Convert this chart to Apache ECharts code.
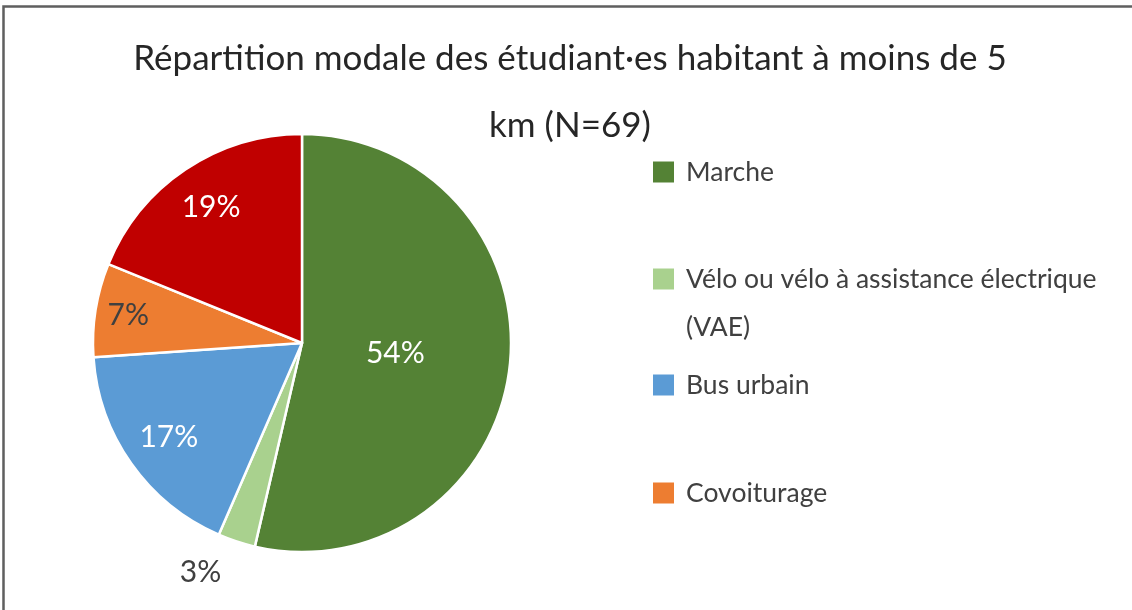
<!DOCTYPE html>
<html>
<head>
<meta charset="utf-8">
<script src="https://cdn.jsdelivr.net/npm/echarts@6/dist/echarts.min.js"></script>
<style>
html,body{margin:0;padding:0;background:#fff;}
#c{width:1132px;height:610px;}
</style>
</head>
<body>
<div id="c"></div>
<script>
// Data (counts, N = 69)
const categories = ['Marche', 'Vélo ou vélo à assistance électrique (VAE)', 'Bus urbain', 'Covoiturage', 'Voiture'];
const counts = [37, 2, 12, 5, 13];
const colors = ['#548235', '#A9D18E', '#5B9BD5', '#ED7D31', '#C00000'];
const legendNames = ['Marche', 'Vélo ou vélo à assistance électrique (VAE)', 'Bus urbain', 'Covoiturage'];
const titleText = 'Répartition modale des étudiant·es habitant à moins de 5\nkm (N=69)';

const FONT = 'Lato, "Open Sans", sans-serif';
const CENTER = [302, 343];
const LABEL_SIZE = 30;
const pctFmt = p => Math.round(p.percent) + '%';

const labelColors = ['#ffffff', '#404040', '#ffffff', '#404040', '#ffffff'];
function baseData(showSet) {
  return categories.map((n, i) => ({
    name: n,
    value: counts[i],
    label: { show: showSet.indexOf(i) >= 0, color: labelColors[i] }
  }));
}

function helper(radius, showSet) {
  return {
    type: 'pie', silent: true, center: CENTER, radius: [0, radius],
    startAngle: 90, clockwise: true, avoidLabelOverlap: false,
    minShowLabelAngle: 0,
    itemStyle: { color: 'rgba(0,0,0,0)', borderWidth: 0 },
    label: { position: 'inside', formatter: pctFmt, fontFamily: FONT, fontSize: LABEL_SIZE },
    labelLine: { show: false },
    emphasis: { disabled: true },
    data: baseData(showSet)
  };
}

const legendTops = [153, 207, 366, 474];
const legends = legendNames.map((n, i) => {
  const multi = n.indexOf('(VAE)') >= 0;
  return {
    data: [n], orient: 'vertical', left: 653, top: legendTops[i], padding: 0,
    itemWidth: 21, itemHeight: 21, icon: 'rect', selectedMode: false,
    itemStyle: { borderWidth: 0 },
    formatter: multi ? '\nVélo ou vélo à assistance électrique\n(VAE)' : '{name}',
    textStyle: {
      fontFamily: FONT, fontSize: 26.5, color: '#404040',
      lineHeight: multi ? 48 : 28,
      padding: multi ? [0, 0, 0, 7] : [0, 0, 10, 7]
    }
  };
});

const chart = echarts.init(document.getElementById('c'), null, { renderer: 'canvas' });
chart.setOption({
  animation: false,
  backgroundColor: '#ffffff',
  color: colors,
  title: {
    text: titleText, left: 570, textAlign: 'center', top: 25, padding: 0,
    textStyle: { fontFamily: FONT, fontSize: 35, fontWeight: 'normal', color: '#262626', lineHeight: 67 }
  },
  legend: legends,
  graphic: [{
    type: 'rect', silent: true,
    shape: { x: 3.5, y: 6.5, width: 1300, height: 800 },
    style: { fill: 'none', stroke: '#5f5f5f', lineWidth: 2.5 }
  }],
  series: [
    {
      type: 'pie', silent: true, center: CENTER, radius: [0, 209],
      startAngle: 90, clockwise: true, avoidLabelOverlap: false,
      itemStyle: { borderColor: '#ffffff', borderWidth: 2.5 },
      label: { position: 'outside', formatter: pctFmt, fontFamily: FONT, fontSize: LABEL_SIZE, color: '#404040' },
      labelLine: { show: false, length: 33, length2: 0 },
      emphasis: { disabled: true },
      data: categories.map((n, i) => ({ name: n, value: counts[i], label: { show: i === 1 } }))
    },
    helper(182, [0]),
    helper(320, [2, 4]),
    helper(346, [3])
  ]
});
</script>
</body>
</html>
